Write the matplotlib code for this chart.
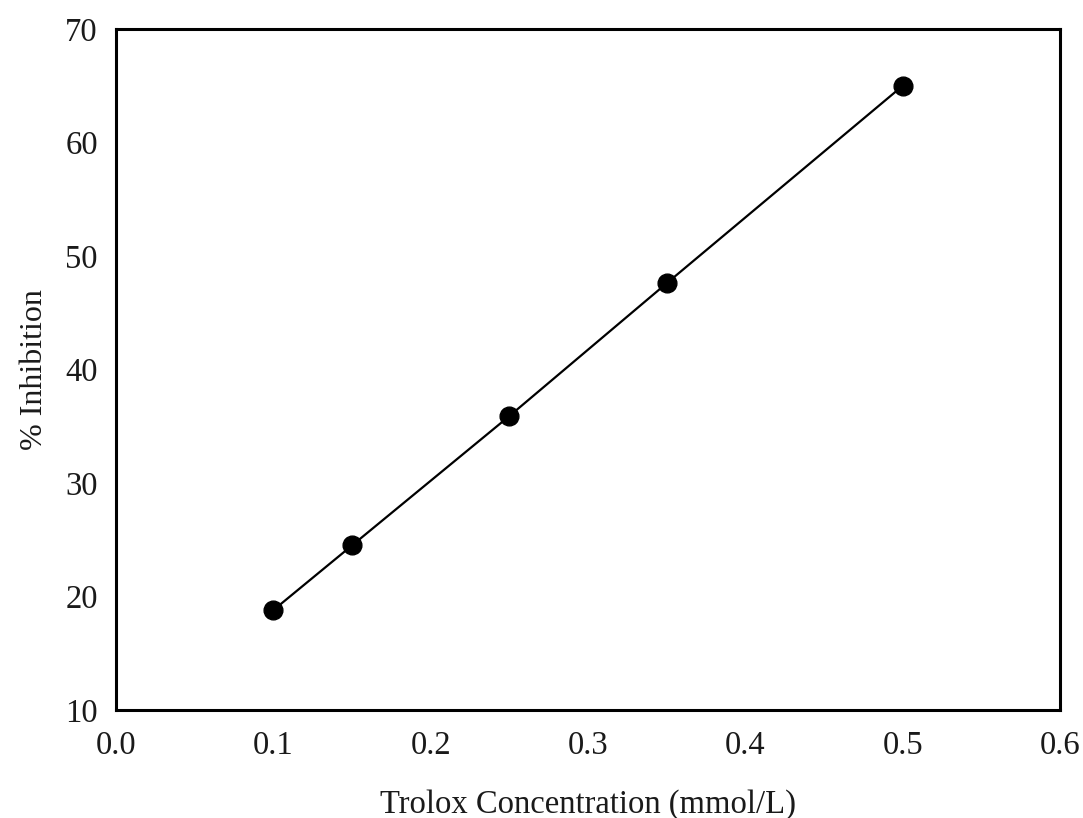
import matplotlib
matplotlib.use("Agg")
import matplotlib.pyplot as plt

# Trolox calibration data
concentration = [0.10, 0.15, 0.25, 0.35, 0.50]   # mmol/L
inhibition = [18.8, 24.5, 35.9, 47.6, 65.0]       # %

x_ticks = [0.0, 0.1, 0.2, 0.3, 0.4, 0.5, 0.6]
y_ticks = [10, 20, 30, 40, 50, 60, 70]

plt.rcParams['font.family'] = ['Liberation Serif', 'DejaVu Serif']

fig = plt.figure(figsize=(10.83, 8.18), dpi=100)
ax = fig.add_axes([0.1071, 0.132, 0.8717, 0.8325])

ax.plot(concentration, inhibition, color='black', linewidth=1.6,
        marker='o', markersize=13.5, markerfacecolor='black',
        markeredgecolor='black')

ax.set_xlim(0.0, 0.6)
ax.set_ylim(10, 70)
ax.set_xticks(x_ticks)
ax.set_yticks(y_ticks)
ax.set_xticklabels([f"{v:.1f}" for v in x_ticks])
ax.set_yticklabels([str(v) for v in y_ticks])
ax.tick_params(axis='both', length=0, labelsize=23.5, colors='#1a1a1a')
ax.tick_params(axis='x', pad=15)
ax.tick_params(axis='y', pad=13)

for s in ax.spines.values():
    s.set_linewidth(2.2)
    s.set_color('black')

ax.set_xlabel('Trolox Concentration (mmol/L)', fontsize=23.5, labelpad=20, color='#1a1a1a')
ax.set_ylabel('% Inhibition', fontsize=23, labelpad=12, color='#1a1a1a')

fig.savefig('out.png', dpi=100)
